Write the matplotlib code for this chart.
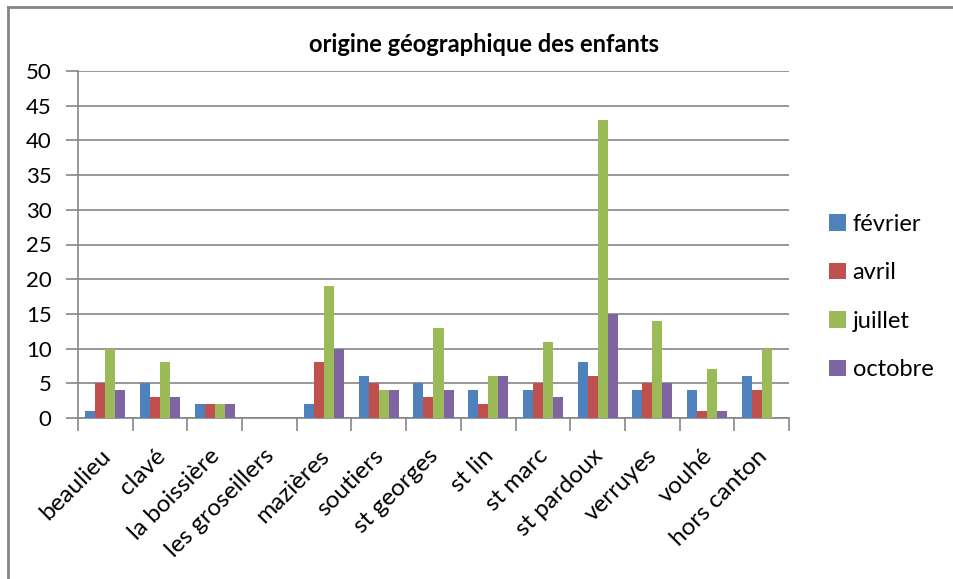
import matplotlib
matplotlib.use("Agg")
import matplotlib.pyplot as plt
import numpy as np
from matplotlib.lines import Line2D

categories = ["beaulieu", "clavé", "la boissière", "les groseillers", "mazières",
              "soutiers", "st georges", "st lin", "st marc", "st pardoux",
              "verruyes", "vouhé", "hors canton"]
fevrier = [1, 5, 2, 0, 2, 6, 5, 4, 4, 8, 4, 4, 6]
avril = [5, 3, 2, 0, 8, 5, 3, 2, 5, 6, 5, 1, 4]
juillet = [10, 8, 2, 0, 19, 4, 13, 6, 11, 43, 14, 7, 10]
octobre = [4, 3, 2, 0, 10, 4, 4, 6, 3, 15, 5, 1, 0]
series_names = ["février", "avril", "juillet", "octobre"]
yticks = [0, 5, 10, 15, 20, 25, 30, 35, 40, 45, 50]

colors = ["#4F81BD", "#C0504D", "#9BBB59", "#8064A2"]
FONT = "Lato"
plt.rcParams['font.family'] = [FONT, 'DejaVu Sans']

W, H = 954, 579
fig = plt.figure(figsize=(W / 100, H / 100), dpi=100)
fig.patch.set_facecolor("white")

# plot area pixel bounds
x0, x1 = 78, 789
y_top, y_bot = 71, 418
ax = fig.add_axes([x0 / W, 1 - y_bot / H, (x1 - x0) / W, (y_bot - y_top) / H])

n = len(categories)
x = np.arange(n)
bw = 0.183
data = [fevrier, avril, juillet, octobre]
for i, (vals, c, name) in enumerate(zip(data, colors, series_names)):
    ax.bar(x + (i - 1.5) * bw, vals, width=bw, color=c, label=name, zorder=3, linewidth=0)

ax.set_xlim(-0.5, n - 0.5)
ax.set_ylim(0, 50)
ax.set_yticks(yticks)
ax.set_yticklabels([str(v) for v in yticks], fontsize=16, family=FONT)
ax.yaxis.grid(True, color="#868686", linewidth=1.2, zorder=0)
ax.set_axisbelow(True)

ax.set_xticks(np.arange(n + 1) - 0.5)
ax.set_xticklabels([])
ax.set_xticks(x + 0.03, minor=True)
ax.set_xticklabels(categories, minor=True, rotation=45, ha="right", va="center",
                   rotation_mode="anchor", fontsize=17.5, family=FONT)
ax.tick_params(axis="x", which="minor", length=0, pad=25)
ax.tick_params(axis="x", which="major", length=9, width=1.2, color="#868686")
ax.tick_params(axis="y", length=9, width=1.2, color="#868686", pad=10)

for s in ["top", "right"]:
    ax.spines[s].set_visible(False)
for s in ["left", "bottom"]:
    ax.spines[s].set_color("#868686")
    ax.spines[s].set_linewidth(1.2)

fig.text(484 / W, 1 - 45 / H, "origine géographique des enfants", ha="center", va="center",
         fontsize=17, fontweight="bold", family=FONT)

leg = fig.legend(loc="upper left", bbox_to_anchor=(829 / W, 1 - 214 / H), frameon=False,
                 fontsize=17, handlelength=0.7, handleheight=0.7, handletextpad=0.3,
                 labelspacing=1.16, borderpad=0, borderaxespad=0)

# outer chart border (top and left visible)
fig.add_artist(Line2D([8 / W, 1], [1 - 7 / H, 1 - 7 / H], transform=fig.transFigure,
                      color="#868686", linewidth=2))
fig.add_artist(Line2D([8 / W, 8 / W], [0, 1 - 7 / H], transform=fig.transFigure,
                      color="#868686", linewidth=2))

fig.savefig("out.png", dpi=100, facecolor="white")
